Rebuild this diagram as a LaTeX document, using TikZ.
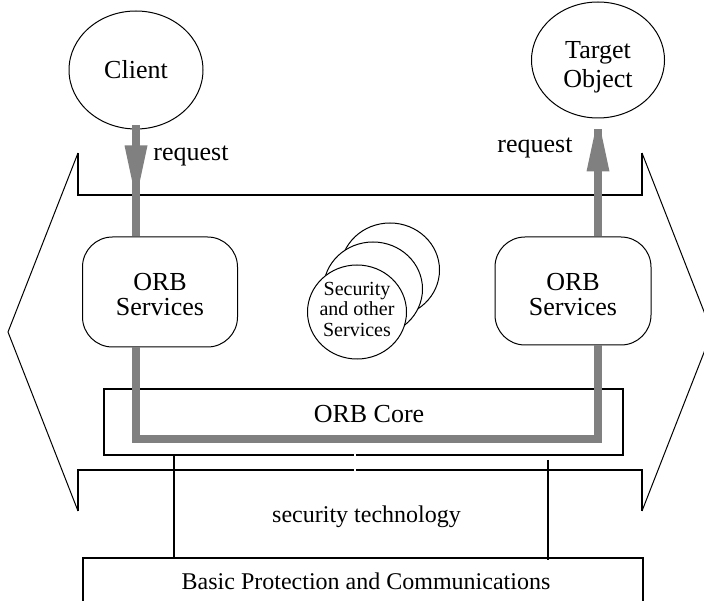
\documentclass[tikz,border=0pt]{standalone}
\usepackage{fontspec}
\setmainfont{Liberation Serif}
\usetikzlibrary{shapes.geometric,decorations.markings}
\definecolor{flowgray}{RGB}{128,128,128}
\begin{document}
\begin{tikzpicture}[x=1pt,y=-1pt,
  thinline/.style={line width=1pt},
  boxline/.style={line width=1.8pt},
  flow/.style={line width=8pt, draw=flowgray},
  bigtext/.style={font=\fontsize{26}{27}\selectfont, align=center, inner sep=0pt},
  midtext/.style={font=\fontsize{24}{25}\selectfont, align=center, inner sep=0pt},
  oval/.style={ellipse, draw, thinline, fill=white},
  svcbox/.style={draw, thinline, rounded corners=30pt, minimum width=155pt, minimum height=110pt,
    font=\fontsize{26}{25}\selectfont, align=center, inner sep=0pt},
  secoval/.style={ellipse, draw, thinline, fill=white, minimum width=99pt, minimum height=94pt, inner sep=0pt},
  midarrow/.style={postaction={decorate}, decoration={markings,
    mark=at position #1 with {\fill[flowgray] (0,-11.5) -- (35,-4) -- (35,4) -- (0,11.5) -- cycle;}}}
]
\clip (0,0) rectangle (704,601);
\path[use as bounding box] (0,0) rectangle (704,601);

% outer double arrow shape
\coordinate (tl) at (78,153);
\coordinate (tlb) at (78,195);
\coordinate (tipL) at (8,332);
\coordinate (bl) at (78,511);
\coordinate (blt) at (78,470);
\coordinate (br) at (642,511);
\coordinate (brt) at (642,470);
\coordinate (tr) at (642,153);
\coordinate (trb) at (642,195);
\coordinate (tipR) at (712,332);
\draw[boxline] (tr) -- (trb) -- (tlb) -- (tl);
\draw[thinline] (tl) -- (tipL) -- (bl);
\draw[boxline] (bl) -- (blt) -- (brt) -- (br);
\draw[thinline] (br) -- (tipR) -- (tr);

% top nodes
\node[oval, minimum width=134pt, minimum height=118pt, bigtext] (client) at (136,70) {Client};
\node[oval, minimum width=133pt, minimum height=116pt] (target) at (598,60) {};
\node[font=\fontsize{26}{29}\selectfont, align=center, inner sep=0pt] (targettext) at (598,67) {Target\\Object};

% ORB services
\node[svcbox] (orbL) at (160,292) {};
\node[svcbox, minimum width=156pt, minimum height=108pt] (orbR) at (573,291) {};
\node[font=\fontsize{26}{25}\selectfont, align=center, inner sep=0pt] (orbLtext) at (160,295) {ORB\\Services};
\node[font=\fontsize{26}{25}\selectfont, align=center, inner sep=0pt] (orbRtext) at (573,295) {ORB\\Services};

% security services stack
\node[secoval] (sec3) at (390,270) {};
\node[secoval] (sec2) at (373,289) {};
\node[secoval] (sec1) at (357,312) {};
\node[font=\fontsize{20}{20.5}\selectfont, align=center, inner sep=0pt] (sectext) at (357,309) {Security\\and other\\Services};

% ORB core
\node[draw, boxline, minimum width=519pt, minimum height=66pt, inner sep=0pt] (core) at (363.5,422) {};
\node[bigtext] (coretext) at (369,414) {ORB Core};

% basic protection box
\node[draw, boxline, minimum width=560pt, minimum height=64pt, inner sep=0pt] (basic) at (363,590) {};
\node[midtext] (basictext) at (366,581) {Basic Protection and Communications};

% security technology text
\node[midtext] (sectech) at (366.5,517) {security technology};

% request labels
\node[bigtext] (reqL) at (191,156) {request};
\node[bigtext] (reqR) at (535,148) {request};

% gray request flow
\coordinate (flowy) at (0,439);
\draw[flow, midarrow=20pt] ([yshift=4pt]client.south) -- (client.south |- orbL.north);
\draw[flow, midarrow=65pt] (target.south |- orbR.north) -- ([yshift=-11pt]target.south);
\draw[flow] (client.south |- orbL.south) -- (client.south |- flowy) -| (target.south |- orbR.south);

% connections to basic protection
\draw[boxline] (core.south -| 174,0) -- (basic.north -| 174,0);
\draw[boxline] ([yshift=-4pt]core.south -| 548,0) -- ([yshift=-3pt]basic.north -| 548,0);

% small gap in the lines
\draw[white, line width=2pt] (355,451) -- (355,474);
\end{tikzpicture}
\end{document}
